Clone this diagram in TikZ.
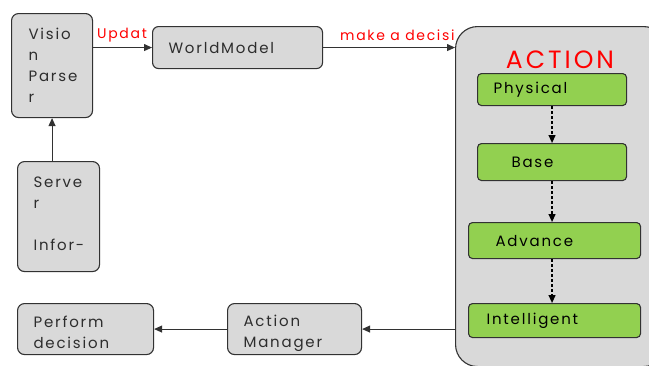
\documentclass[tikz,border=0pt]{standalone}
\usepackage{fontspec}
\setmainfont{Poppins}[LetterSpace=12]
\usetikzlibrary{arrows.meta}
\definecolor{boxgray}{RGB}{217,217,217}
\definecolor{leafgreen}{RGB}{146,208,80}
\definecolor{edgegray}{RGB}{50,50,50}
\definecolor{txt}{RGB}{45,45,45}
\newcommand{\topgap}[1]{\rule{0pt}{#1}}
\begin{document}
\begin{tikzpicture}[x=1pt,y=-1pt,
  box/.style={draw=edgegray,line width=1.1pt,fill=boxgray,rounded corners=7pt,
    anchor=north west,align=left,inner ysep=0pt,text=txt,
    font=\fontsize{15}{21}\selectfont},
  leaf/.style={box,fill=leafgreen,rounded corners=4pt,text=black},
  arr/.style={draw=edgegray,line width=0.9pt,-{Triangle[length=8pt,width=7pt]}},
  darr/.style={arr,draw=black,line width=1.2pt,dash pattern=on 3pt off 2pt},
  redlabel/.style={text=red,anchor=west,inner sep=0pt,font=\fontsize{14}{16}\selectfont}
]
\useasboundingbox (0,0) rectangle (649,365);
\clip (0,0) rectangle (649,365);

% left column
\node[box,inner xsep=17pt,text width=47pt,minimum height=104pt] (vision) at (11,13)
  {Visio\\n\\Parse\\r};
\node[box,inner xsep=16pt,text width=50pt,minimum height=110pt] (server) at (17,161)
  {\topgap{25pt}Serve\\r\\~\\Infor-};
\node[box,inner xsep=16pt,text width=138pt,minimum height=42pt,rounded corners=6pt] (world) at (152,26)
  {WorldModel};

% bottom row
\node[box,inner xsep=16pt,text width=104pt,minimum height=51pt] (perform) at (17,303)
  {\topgap{19pt}Perform\\decision};
\node[box,inner xsep=16pt,text width=102pt,minimum height=51pt] (manager) at (227,303)
  {\topgap{19pt}Action\\Manager};

% ACTION container
\node[box,rounded corners=22pt,minimum width=210pt,minimum height=340pt,inner sep=0pt] (action) at (455,26) {};
\node[text=red,inner sep=0pt,font=\fontsize{25}{28}\selectfont] (actiontitle) at (560,60) {ACTION};

\node[leaf,inner xsep=16pt,text width=117pt,minimum height=32pt] (physical) at (477,73) {Physical};
\node[leaf,inner xsep=34pt,text width=81pt,minimum height=37pt] (base) at (477,143) {Base};
\node[leaf,inner xsep=27pt,text width=118pt,minimum height=36pt] (advance) at (468,222) {Advance};
\node[leaf,inner xsep=18pt,text width=136pt,minimum height=34pt] (intelligent) at (468,303) {Intelligent};

% connectors
\draw[arr] (vision.east |- world.west) -- (world.west);
\draw[arr] (world.east) -- (world.east -| action.west);
\draw[arr] (vision.south |- server.north) -- (vision.south);
\draw[arr] (manager.east -| action.west) -- (manager.east);
\draw[arr] (manager.west) -- (perform.east);

\draw[darr] (physical.south) -- (base.north);
\draw[darr] (base.south) -- (base.south |- advance.north);
\draw[darr] (base.south |- advance.south) -- (base.south |- intelligent.north);

% edge labels
\node[redlabel] (updatelbl) at (97,35) {Updat};
\node[redlabel] (decidelbl) at (340,35) {make a decisi};
\end{tikzpicture}
\end{document}
